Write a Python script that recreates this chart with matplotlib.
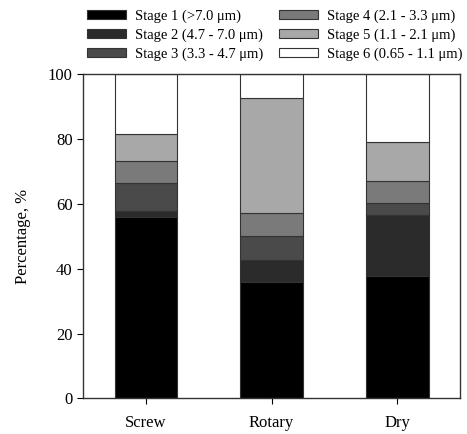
import numpy as np
import matplotlib.pyplot as plt

plt.rcParams['font.family'] = ['Liberation Serif', 'DejaVu Serif']

methods = ["Screw", "Rotary", "Dry"]
stages = ["Stage 1 (>7.0 μm)", "Stage 2 (4.7 - 7.0 μm)", "Stage 3 (3.3 - 4.7 μm)",
          "Stage 4 (2.1 - 3.3 μm)", "Stage 5 (1.1 - 2.1 μm)", "Stage 6 (0.65 - 1.1 μm)"]
stage1 = [55.9, 35.8, 37.9]
stage2 = [2.0, 7.0, 18.7]
stage3 = [8.4, 7.2, 3.7]
stage4 = [6.9, 7.1, 6.9]
stage5 = [8.5, 35.7, 12.0]
stage6 = [18.3, 7.2, 20.8]
colors = ["#000000", "#2b2b2b", "#4a4a4a", "#7a7a7a", "#a8a8a8", "#ffffff"]

fig = plt.figure(figsize=(4.67, 4.34), dpi=100)
ax = fig.add_axes([0.178, 0.082, 0.807, 0.747])

x = np.arange(len(methods))
bottom = np.zeros(len(methods))
for vals, lab, c in zip([stage1, stage2, stage3, stage4, stage5, stage6], stages, colors):
    ax.bar(x, vals, 0.5, bottom=bottom, color=c, edgecolor="#333333", linewidth=0.8, label=lab)
    bottom += np.array(vals)

ax.set_xlim(-0.5, 2.5)
ax.set_ylim(0, 100)
ax.set_xticks(x)
ax.set_xticklabels(methods, fontsize=12)
ax.set_yticks([0, 20, 40, 60, 80, 100])
ax.tick_params(axis='y', labelsize=12, direction='out', length=4)
ax.tick_params(axis='x', direction='out', length=4, pad=8)
ax.set_ylabel("Percentage, %", fontsize=12, labelpad=12)
for s in ax.spines.values():
    s.set_color("#333333")
    s.set_linewidth(1.0)

fig.legend(loc='upper left', bbox_to_anchor=(0.17, 0.995), ncol=2, frameon=False,
           fontsize=10.5, handlelength=2.7, handleheight=0.6, handletextpad=0.6,
           labelspacing=0.38, columnspacing=1.1, borderpad=0)

fig.savefig("out.png", dpi=100)
